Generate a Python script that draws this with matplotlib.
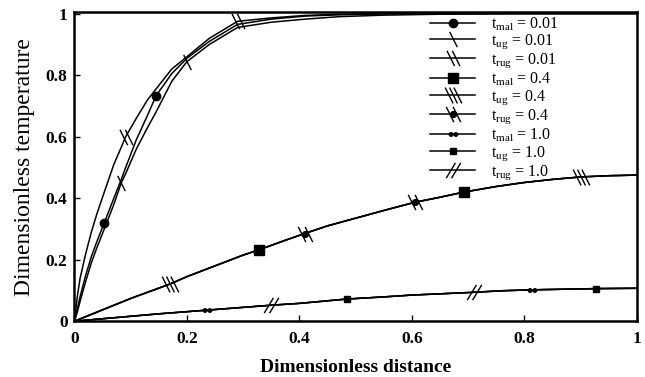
import numpy as np
import matplotlib
matplotlib.use('Agg')
import matplotlib.pyplot as plt
from matplotlib.path import Path

plt.rcParams['font.family'] = 'Liberation Serif'
plt.rcParams['mathtext.default'] = 'regular'

# ______ data ______
# t = 0.01 (three steep curves)
x_001 = [0, 0.005, 0.01, 0.02, 0.03, 0.04, 0.053, 0.07, 0.083, 0.091, 0.11, 0.13, 0.145,
         0.173, 0.2, 0.24, 0.29, 0.35, 0.41, 0.47, 0.55, 0.65, 0.8, 1.0]
mal_001 = [0, 0.04, 0.08, 0.15, 0.21, 0.26, 0.32, 0.40, 0.46, 0.50, 0.59, 0.67, 0.733,
           0.805, 0.855, 0.91, 0.965, 0.982, 0.992, 0.996, 0.999, 1.0, 1.0, 1.0]
ug_001 = [0, 0.03, 0.065, 0.13, 0.19, 0.24, 0.30, 0.38, 0.449, 0.48, 0.56, 0.63, 0.68,
          0.78, 0.844, 0.90, 0.955, 0.972, 0.982, 0.99, 0.995, 0.998, 1.0, 1.0]
rug_001 = [0, 0.08, 0.14, 0.22, 0.29, 0.35, 0.42, 0.51, 0.565, 0.60, 0.66, 0.72, 0.755,
           0.82, 0.86, 0.92, 0.975, 0.986, 0.994, 0.998, 1.0, 1.0, 1.0, 1.0]

# t = 0.4
x_04 = [0, 0.05, 0.1, 0.17, 0.2, 0.25, 0.3, 0.328, 0.37, 0.409, 0.45, 0.5, 0.55, 0.606,
        0.65, 0.693, 0.75, 0.8, 0.85, 0.9, 0.95, 1.0]
y_04 = [0, 0.037, 0.074, 0.121, 0.145, 0.18, 0.215, 0.232, 0.26, 0.285, 0.31, 0.335, 0.36,
        0.387, 0.403, 0.42, 0.438, 0.451, 0.461, 0.469, 0.473, 0.475]

# t = 1.0
x_10 = [0, 0.05, 0.1, 0.15, 0.236, 0.3, 0.35, 0.4, 0.484, 0.55, 0.6, 0.65, 0.71, 0.76,
        0.813, 0.87, 0.928, 1.0]
y_10 = [0, 0.008, 0.016, 0.024, 0.036, 0.045, 0.052, 0.058, 0.072, 0.079, 0.085, 0.089,
        0.094, 0.099, 0.102, 0.104, 0.106, 0.107]

labels = [r'$t_{mal}$ = 0.01', r'$t_{ug}$ = 0.01', r'$t_{rug}$ = 0.01',
          r'$t_{mal}$ = 0.4', r'$t_{ug}$ = 0.4', r'$t_{rug}$ = 0.4',
          r'$t_{mal}$ = 1.0', r'$t_{ug}$ = 1.0', r'$t_{rug}$ = 1.0']


# ______ custom markers ______
def slashes(n, lean=0.5, gap=0.45):
    verts, codes = [], []
    offs = (np.arange(n) - (n - 1) / 2) * gap
    for o in offs:
        verts += [(o - lean, 1), (o + lean, -1)]
        codes += [Path.MOVETO, Path.LINETO]
    return Path(verts, codes)


def compound(*paths):
    return Path.make_compound_path(*paths)


m_back1 = slashes(1)
m_back2 = slashes(2, gap=0.7)
m_back3 = slashes(3, gap=0.55)
m_fwd2 = slashes(2, lean=-0.6, gap=0.7)
m_rug04 = compound(slashes(2, gap=0.9), Path.circle((0, 0), 0.38))
m_dots = compound(Path.circle((-0.55, 0), 0.4), Path.circle((0.55, 0), 0.4))

series = [
    (x_001, mal_001, 'o', 6, [6, 12]),
    (x_001, ug_001, m_back1, 11, [8, 14]),
    (x_001, rug_001, m_back2, 11, [9, 16]),
    (x_04, y_04, 's', 7, [7, 15]),
    (x_04, y_04, m_back3, 12, [3, 19]),
    (x_04, y_04, m_rug04, 11, [9, 13]),
    (x_10, y_10, m_dots, 6, [4, 14]),
    (x_10, y_10, 's', 4, [8, 16]),
    (x_10, y_10, m_fwd2, 11, [6, 12]),
]

# ______ plot ______
fig = plt.figure(figsize=(6.45, 3.77), dpi=100)
ax = fig.add_axes([0.1155, 0.148, 0.872, 0.82])

for (xs, ys, mk, ms, idx), lab in zip(series, labels):
    ax.plot(xs, ys, 'k-', lw=1.1, marker=mk, ms=ms, markevery=idx, mfc='k', mec='k',
            mew=1.0, label=lab)

ax.set_xlim(0, 1)
ax.set_ylim(0, 1.005)
ax.set_xticks([0, 0.2, 0.4, 0.6, 0.8, 1])
ax.set_xticklabels(['0', '0.2', '0.4', '0.6', '0.8', '1'])
ax.set_yticks([0, 0.2, 0.4, 0.6, 0.8, 1])
ax.set_yticklabels(['0', '0.2', '0.4', '0.6', '0.8', '1'])
ax.tick_params(direction='in', length=4, width=1, labelsize=12.5)
ax.tick_params(axis='x', pad=7)
ax.tick_params(axis='y', pad=5)
for t in ax.get_xticklabels() + ax.get_yticklabels():
    t.set_fontweight('bold')
for s in ax.spines.values():
    s.set_linewidth(1.8)

ax.set_xlabel('Dimensionless distance', fontsize=14, fontweight='bold', labelpad=9)
ax.set_ylabel('Dimensionless temperature', fontsize=17, labelpad=8)

ax.legend(loc='upper left', bbox_to_anchor=(0.632, 0.99), frameon=False, fontsize=11.5,
          handlelength=2.85, labelspacing=0.02, handletextpad=0.95, borderpad=0,
          borderaxespad=0)

fig.savefig('out.png', dpi=100)
